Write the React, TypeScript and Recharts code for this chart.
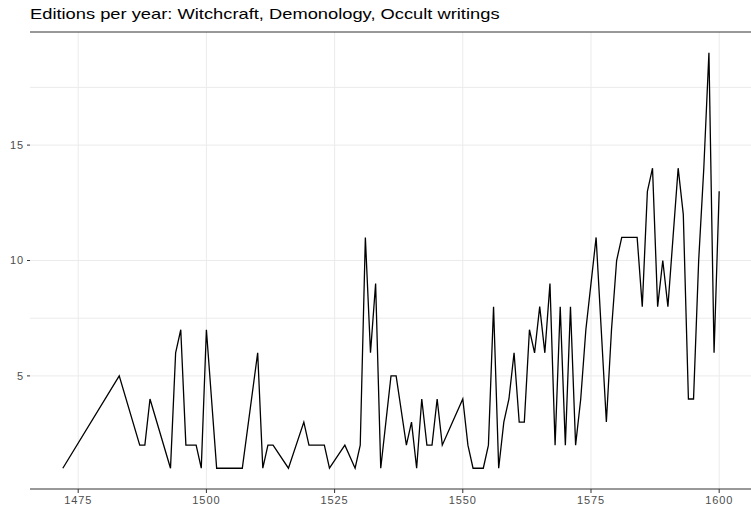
import { LineChart, Line, XAxis, YAxis, CartesianGrid, ReferenceLine } from 'recharts'

// editions per year
const YEARS = [
  1472, 1483, 1487, 1488, 1489, 1493, 1494, 1495, 1496, 1497, 1498, 1499, 1500,
  1502, 1503, 1504, 1505, 1506, 1507, 1510, 1511, 1512, 1513, 1516, 1519, 1520,
  1521, 1522, 1523, 1524, 1527, 1529, 1530, 1531, 1532, 1533, 1534, 1535, 1536,
  1537, 1539, 1540, 1541, 1542, 1543, 1544, 1545, 1546, 1548, 1550, 1551, 1552,
  1553, 1554, 1555, 1556, 1557, 1558, 1559, 1560, 1561, 1562, 1563, 1564, 1565,
  1566, 1567, 1568, 1569, 1570, 1571, 1572, 1573, 1574, 1575, 1576, 1577, 1578,
  1579, 1580, 1581, 1582, 1583, 1584, 1585, 1586, 1587, 1588, 1589, 1590, 1591,
  1592, 1593, 1594, 1595, 1596, 1597, 1598, 1599, 1600,
]

const EDITIONS = [
  1, 5, 2, 2, 4, 1, 6, 7, 2, 2, 2, 1, 7,
  1, 1, 1, 1, 1, 1, 6, 1, 2, 2, 1, 3, 2,
  2, 2, 2, 1, 2, 1, 2, 11, 6, 9, 1, 3, 5,
  5, 2, 3, 1, 4, 2, 2, 4, 2, 3, 4, 2, 1,
  1, 1, 2, 8, 1, 3, 4, 6, 3, 3, 7, 6, 8,
  6, 9, 2, 8, 2, 8, 2, 4, 7, 9, 11, 7, 3,
  7, 10, 11, 11, 11, 11, 8, 13, 14, 8, 10, 8, 11,
  14, 12, 4, 4, 10, 14, 19, 6, 13,
]

const X_TICKS = [1475, 1500, 1525, 1550, 1575, 1600]
const Y_TICKS = [5, 10, 15]
const Y_GRID = [5, 7.5, 10, 15, 17.5]

const data = YEARS.map((year, i) => ({ year, n: EDITIONS[i] }))

const tickStyle = {
  fill: '#4d4d4d',
  fontSize: 11,
  letterSpacing: 0.9,
  fontFamily: '"Liberation Sans", Arial, sans-serif',
}

export default function App() {
  return (
    <div
      style={{
        position: 'absolute',
        left: 0,
        top: 0,
        width: 751,
        height: 508,
        background: '#fff',
        fontFamily: '"Liberation Sans", Arial, sans-serif',
        overflow: 'hidden',
      }}
    >
      <div
        style={{
          position: 'absolute',
          left: 30,
          top: 5,
          fontSize: 15,
          color: '#000',
          whiteSpace: 'nowrap',
          transform: 'scaleX(1.22)',
          transformOrigin: 'left top',
        }}
      >
        Editions per year: Witchcraft, Demonology, Occult writings
      </div>
      <LineChart width={751} height={508} data={data} margin={{ top: 32, right: -1, bottom: 0, left: 0 }}>
        <CartesianGrid
          stroke="#ebebeb"
          horizontalValues={Y_GRID}
          verticalValues={X_TICKS}
        />
        <XAxis
          dataKey="year"
          type="number"
          domain={[1465.6, 1606.4]}
          ticks={X_TICKS}
          height={19}
          tickSize={4}
          tickMargin={3}
          stroke="#333"
          tick={tickStyle}
          allowDataOverflow
        />
        <YAxis
          type="number"
          domain={[0.1, 19.9]}
          ticks={Y_TICKS}
          width={30}
          tickSize={3}
          tickMargin={3}
          axisLine={false}
          stroke="#333"
          tick={tickStyle}
          allowDataOverflow
        />
        <ReferenceLine y={19.9} stroke="#333" strokeWidth={1} ifOverflow="visible" />
        <Line
          type="linear"
          dataKey="n"
          stroke="#000"
          strokeWidth={1.3}
          dot={false}
          isAnimationActive={false}
        />
      </LineChart>
    </div>
  )
}
